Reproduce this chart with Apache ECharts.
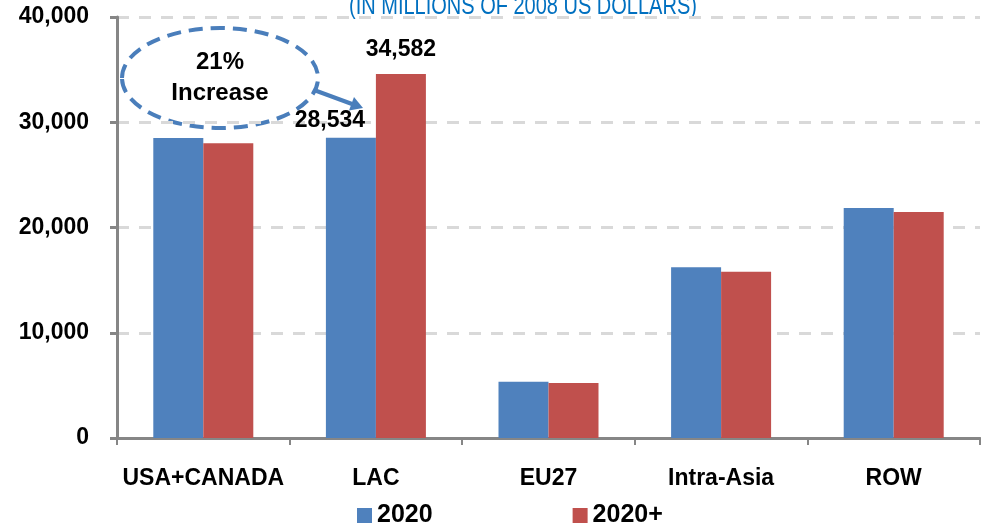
<!DOCTYPE html>
<html>
<head>
<meta charset="utf-8">
<script src="https://cdn.jsdelivr.net/npm/echarts@6/dist/echarts.min.js"></script>
<style>
    html, body { margin: 0; padding: 0; background: #fff; }
    #chart { width: 981px; height: 524px; }
</style>
</head>
<body>
<div id="chart"></div>
<script>
// data
const regions = ['USA+CANADA', 'LAC', 'EU27', 'Intra-Asia', 'ROW']
const values2020 = [28500, 28534, 5350, 16220, 21850]
const values2020plus = [28000, 34582, 5230, 15800, 21470]
const seriesNames = ['2020', '2020+']
const labelledRegion = 'LAC'

const FONT = 'Liberation Sans, Arial, sans-serif'
const BLUE = '#4F81BD'
const RED = '#C0504D'
const AXIS_GREY = '#868686'

function fmt(v) {
    return String(v).replace(/\B(?=(\d{3})+(?!\d))/g, ',')
}

// only the LAC pair carries value labels
function withLabels(arr, offset) {
    return arr.map((v, i) => {
        if (regions[i] !== labelledRegion) return v
        return {
            value: v,
            label: {
                show: true,
                position: 'top',
                distance: offset.distance,
                offset: offset.shift,
                formatter: p => fmt(p.value),
                color: '#000',
                fontFamily: FONT,
                fontWeight: 'bold',
                fontSize: 23
            }
        }
    })
}

const chart = echarts.init(document.getElementById('chart'))

const option = {
    animation: false,
    backgroundColor: '#fff',
    grid: {
        left: 117,
        right: 1,
        top: 17,
        bottom: 86
    },
    legend: {
        data: seriesNames,
        left: 352,
        top: 498,
        itemWidth: 15,
        itemHeight: 15,
        itemGap: 140,
        icon: 'rect',
        textStyle: {
            fontFamily: FONT,
            fontWeight: 'bold',
            fontSize: 25,
            color: '#000'
        }
    },
    xAxis: {
        type: 'category',
        data: regions,
        axisLine: { lineStyle: { color: AXIS_GREY, width: 3 } },
        axisTick: { show: true, length: 7, lineStyle: { color: AXIS_GREY, width: 2 } },
        axisLabel: {
            interval: 0,
            margin: 29,
            color: '#000',
            fontFamily: FONT,
            fontWeight: 'bold',
            fontSize: 23
        }
    },
    yAxis: {
        type: 'value',
        min: 0,
        max: 40000,
        interval: 10000,
        axisLine: { show: true, lineStyle: { color: AXIS_GREY, width: 3 } },
        axisTick: { show: true, length: 7, lineStyle: { color: AXIS_GREY, width: 3 } },
        axisLabel: {
            margin: 28,
            color: '#000',
            fontFamily: FONT,
            fontWeight: 'bold',
            fontSize: 23,
            formatter: v => fmt(v)
        },
        splitLine: {
            lineStyle: { color: '#d9d9d9', width: 3, type: [12, 10] }
        }
    },
    series: [
        {
            name: seriesNames[0],
            type: 'bar',
            barWidth: 50,
            barGap: '0%',
            itemStyle: { color: BLUE },
            data: withLabels(values2020, { distance: 6, shift: [-21, 0] })
        },
        {
            name: seriesNames[1],
            type: 'bar',
            barWidth: 50,
            itemStyle: { color: RED },
            data: withLabels(values2020plus, { distance: 13, shift: [0, 0] })
        }
    ],
    graphic: [
        {
            type: 'text',
            x: 349,
            y: -5,
            scaleX: 0.8,
            style: {
                text: '(IN MILLIONS OF 2008 US DOLLARS)',
                fill: '#0070C0',
                font: '25px "Liberation Sans", sans-serif'
            }
        },
        // "21% Increase" callout
        {
            type: 'ellipse',
            shape: { cx: 220, cy: 78, rx: 98, ry: 50 },
            style: { fill: 'none', stroke: '#4A7EBB', lineWidth: 4, lineDash: [14, 8] }
        },
        {
            type: 'text',
            x: 220,
            y: 62,
            style: {
                text: '21%',
                align: 'center',
                verticalAlign: 'middle',
                fill: '#000',
                font: 'bold 24px "Liberation Sans", sans-serif'
            }
        },
        {
            type: 'text',
            x: 220,
            y: 93,
            style: {
                text: 'Increase',
                align: 'center',
                verticalAlign: 'middle',
                fill: '#000',
                font: 'bold 24px "Liberation Sans", sans-serif'
            }
        },
        {
            type: 'line',
            shape: { x1: 314, y1: 90, x2: 352, y2: 104 },
            style: { stroke: '#4A7EBB', lineWidth: 4 }
        },
        {
            type: 'polygon',
            shape: { points: [[363, 108], [349, 110.5], [354, 97]] },
            style: { fill: '#4A7EBB' }
        }
    ]
}

chart.setOption(option)
</script>
</body>
</html>
